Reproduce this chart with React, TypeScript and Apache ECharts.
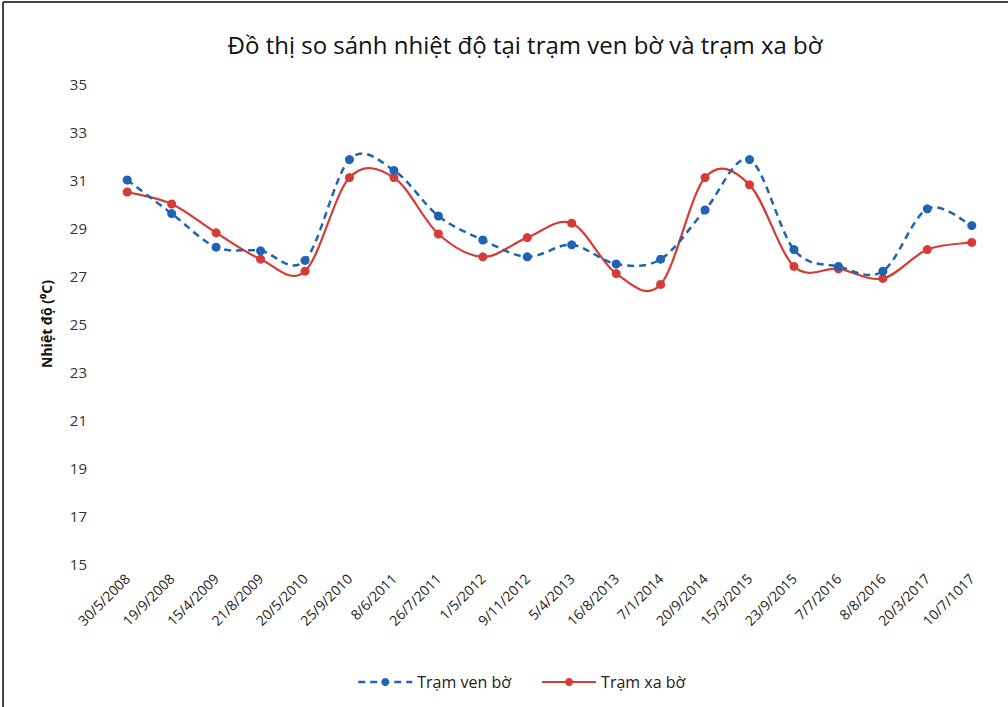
import React, { useEffect, useRef } from "react";
import * as echarts from "echarts";

const categories = [
  "30/5/2008", "19/9/2008", "15/4/2009", "21/8/2009", "20/5/2010",
  "25/9/2010", "8/6/2011", "26/7/2011", "1/5/2012", "9/11/2012",
  "5/4/2013", "16/8/2013", "7/1/2014", "20/9/2014", "15/3/2015",
  "23/9/2015", "7/7/2016", "8/8/2016", "20/3/2017", "10/7/1017",
];

const venBo = [
  31.0, 29.6, 28.2, 28.05, 27.65, 31.85, 31.4, 29.5, 28.5, 27.8,
  28.3, 27.5, 27.7, 29.75, 31.85, 28.1, 27.4, 27.2, 29.8, 29.1,
];

const xaBo = [
  30.5, 30.0, 28.8, 27.7, 27.2, 31.1, 31.1, 28.75, 27.8, 28.6,
  29.2, 27.1, 26.65, 31.1, 30.8, 27.4, 27.3, 26.9, 28.1, 28.4,
];

const FONT = "'Open Sans', 'Noto Sans', sans-serif";
const BLUE = "#1f63b5";
const RED = "#d63b35";

function curveSeries(values: number[], color: string, width: number, dash: any, z: number) {
  return {
    type: "custom",
    silent: true,
    z,
    data: values.map((v, i) => [i, v]),
    renderItem: (params: any, api: any) => {
      if (params.dataIndex !== 0) return null;
      const pts = values.map((v, i) => api.coord([i, v]));
      const n = pts.length;
      let d = `M${pts[0][0]},${pts[0][1]}`;
      for (let i = 0; i < n - 1; i++) {
        const p0 = pts[Math.max(0, i - 1)];
        const p1 = pts[i];
        const p2 = pts[i + 1];
        const p3 = pts[Math.min(n - 1, i + 2)];
        const c1x = p1[0] + (p2[0] - p0[0]) / 6;
        const c1y = p1[1] + (p2[1] - p0[1]) / 6;
        const c2x = p2[0] - (p3[0] - p1[0]) / 6;
        const c2y = p2[1] - (p3[1] - p1[1]) / 6;
        d += ` C${c1x},${c1y} ${c2x},${c2y} ${p2[0]},${p2[1]}`;
      }
      return {
        type: "path",
        shape: { pathData: d },
        style: { fill: "none", stroke: color, lineWidth: width, lineDash: dash },
      };
    },
  };
}

export default function App() {
  const ref = useRef<HTMLDivElement>(null);
  useEffect(() => {
    if (!ref.current) return;
    const chart = echarts.init(ref.current, null, { renderer: "svg" });
    chart.setOption({
      animation: false,
      backgroundColor: "#ffffff",
      textStyle: { fontFamily: FONT },
      graphic: [
        {
          type: "line",
          shape: { x1: 3, y1: 2, x2: 1008, y2: 2 },
          style: { stroke: "#444", lineWidth: 2 },
          silent: true,
        },
        {
          type: "line",
          shape: { x1: 3, y1: 2, x2: 3, y2: 707 },
          style: { stroke: "#444", lineWidth: 2 },
          silent: true,
        },
      ],
      title: {
        text: "Đồ thị so sánh nhiệt độ tại trạm ven bờ và trạm xa bờ",
        left: 520,
        top: 27,
        textAlign: "center",
        textStyle: { fontSize: 24, fontWeight: "normal", color: "#111", fontFamily: FONT },
      },
      legend: {
        bottom: 12,
        left: 352,
        itemWidth: 54,
        itemHeight: 10,
        itemGap: 30,
        textStyle: { fontSize: 16, color: "#222", fontFamily: FONT },
        data: [
          { name: "Trạm ven bờ", lineStyle: { color: BLUE, width: 2.5, type: [7, 5], opacity: 1 } },
          { name: "Trạm xa bờ", lineStyle: { color: RED, width: 2.2, type: "solid", opacity: 1 } },
        ],
      },
      grid: { left: 105, right: 14, top: 84, bottom: 143, containLabel: false },
      xAxis: {
        type: "category",
        data: categories,
        boundaryGap: true,
        axisLine: { show: false },
        axisTick: { show: false },
        axisLabel: {
          rotate: 45,
          fontSize: 14,
          color: "#222",
          margin: 12,
          interval: 0,
          fontFamily: FONT,
        },
      },
      yAxis: {
        type: "value",
        min: 15,
        max: 35,
        interval: 2,
        name: "Nhiệt độ (⁰C)",
        nameLocation: "middle",
        nameGap: 52,
        nameTextStyle: { fontSize: 14, color: "#111", fontWeight: "bold", fontFamily: FONT },
        axisLine: { show: false },
        axisTick: { show: false },
        splitLine: { show: false },
        axisLabel: { fontSize: 15, color: "#333", margin: 18, fontFamily: FONT },
      },
      series: [
        curveSeries(xaBo, RED, 2.2, null, 1),
        curveSeries(venBo, BLUE, 2.5, [7, 5], 2),
        {
          name: "Trạm ven bờ",
          type: "line",
          data: venBo,
          symbol: "circle",
          symbolSize: 9,
          itemStyle: { color: BLUE },
          lineStyle: { color: BLUE, width: 2.5, type: [7, 5], opacity: 0 },
          z: 4,
        },
        {
          name: "Trạm xa bờ",
          type: "line",
          data: xaBo,
          symbol: "circle",
          symbolSize: 9,
          itemStyle: { color: RED },
          lineStyle: { color: RED, width: 2.2, opacity: 0 },
          z: 3,
        },
      ],
    });
    return () => chart.dispose();
  }, []);
  return (
    <div
      ref={ref}
      style={{ position: "fixed", left: 0, top: 0, width: 1008, height: 707 }}
    />
  );
}
